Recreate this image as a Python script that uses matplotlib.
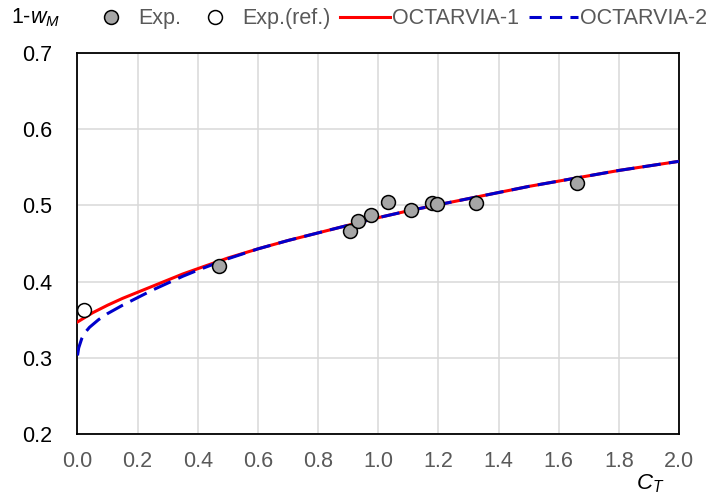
import matplotlib
matplotlib.use("Agg")
import matplotlib.pyplot as plt
from matplotlib.lines import Line2D

plt.rcParams['font.family'] = ['Liberation Sans', 'DejaVu Sans']
plt.rcParams['mathtext.fontset'] = 'custom'
plt.rcParams['mathtext.rm'] = 'Liberation Sans'
plt.rcParams['mathtext.it'] = 'Liberation Sans:italic'

# Experimental points (C_T, 1-w_M)
ct_exp = [0.470, 0.906, 0.934, 0.976, 1.034, 1.109, 1.180, 1.194, 1.325, 1.660]
w_exp = [0.421, 0.467, 0.479, 0.4875, 0.504, 0.4935, 0.503, 0.5016, 0.5037, 0.529]
ct_ref = [0.022]
w_ref = [0.363]

# OCTARVIA-1 estimate
ct_oct1 = [0, 0.05, 0.1, 0.15, 0.2, 0.25, 0.3, 0.35, 0.4, 0.5, 0.6, 0.7, 0.8,
           0.9, 1.0, 1.1, 1.2, 1.3, 1.4, 1.5, 1.6, 1.7, 1.8, 1.9, 2.0]
w_oct1 = [0.347, 0.359, 0.369, 0.378, 0.386, 0.394, 0.402, 0.410, 0.417, 0.431,
          0.443, 0.454, 0.464, 0.474, 0.484, 0.493, 0.501, 0.509, 0.517, 0.525,
          0.532, 0.539, 0.546, 0.552, 0.558]

# OCTARVIA-2 estimate
ct_oct2 = [0, 0.004, 0.014, 0.025, 0.04, 0.07, 0.1, 0.15, 0.2, 0.25, 0.3, 0.35,
           0.4, 0.5, 0.6, 0.7, 0.8, 0.9, 1.0, 1.1, 1.2, 1.3, 1.4, 1.5, 1.6, 1.7,
           1.8, 1.9, 2.0]
w_oct2 = [0.303, 0.313, 0.325, 0.333, 0.340, 0.350, 0.358, 0.369, 0.379, 0.389,
          0.398, 0.407, 0.415, 0.430, 0.443, 0.454, 0.464, 0.474, 0.484, 0.493,
          0.501, 0.509, 0.517, 0.525, 0.532, 0.539, 0.546, 0.552, 0.558]

xticks = [0.0, 0.2, 0.4, 0.6, 0.8, 1.0, 1.2, 1.4, 1.6, 1.8, 2.0]
yticks = [0.2, 0.3, 0.4, 0.5, 0.6, 0.7]

fig = plt.figure(figsize=(7.11, 4.95), dpi=100)
ax = fig.add_axes([0.109, 0.1235, 0.846, 0.769])

ax.plot(ct_oct1, w_oct1, color='#FF0000', lw=2.2, zorder=3)
ax.plot(ct_oct2, w_oct2, color='#0000CC', lw=2.2, dashes=(6.0, 2.7), zorder=4)
ax.scatter(ct_exp, w_exp, s=100, facecolor='#A6A6A6', edgecolor='black',
           linewidth=1.1, zorder=5)
ax.scatter(ct_ref, w_ref, s=100, facecolor='white', edgecolor='black',
           linewidth=1.1, zorder=5)

ax.set_xlim(0, 2.0)
ax.set_ylim(0.2, 0.7)
ax.set_xticks(xticks)
ax.set_yticks(yticks)
ax.set_xticklabels([f"{v:.1f}" for v in xticks])
ax.set_yticklabels([f"{v:.1f}" for v in yticks])
ax.tick_params(axis='x', length=0, pad=12, labelsize=15.5, labelcolor='#595959')
ax.tick_params(axis='y', length=0, pad=18, labelsize=15.5, labelcolor='black')
ax.grid(True, color='#D9D9D9', lw=1.1)
ax.set_axisbelow(True)
for sp in ax.spines.values():
    sp.set_color('black')
    sp.set_linewidth(1.3)

fig.text(0.016, 0.965, r"1-$w_M$", fontsize=15.5, ha='left', va='center')
fig.text(0.915, 0.022, r"$C_T$", fontsize=16, ha='center', va='center')

handles = [
    Line2D([], [], ls='none', marker='o', ms=10, mfc='#A6A6A6', mec='black', mew=1.1),
    Line2D([], [], ls='none', marker='o', ms=10, mfc='white', mec='black', mew=1.1),
    Line2D([], [], color='#FF0000', lw=2.2),
    Line2D([], [], color='#0000CC', lw=2.2, dashes=(4.0, 2.7)),
]
labels = ["Exp.", "Exp.(ref.)", "OCTARVIA-1", "OCTARVIA-2"]
leg = fig.legend(handles, labels, loc='center', bbox_to_anchor=(0.558, 0.962),
                 ncol=4, frameon=False, fontsize=15.5, handlelength=2.3,
                 handletextpad=0.1, columnspacing=0.45, labelcolor='#595959',
                 borderaxespad=0, borderpad=0)

fig.savefig("out.png", dpi=100)
